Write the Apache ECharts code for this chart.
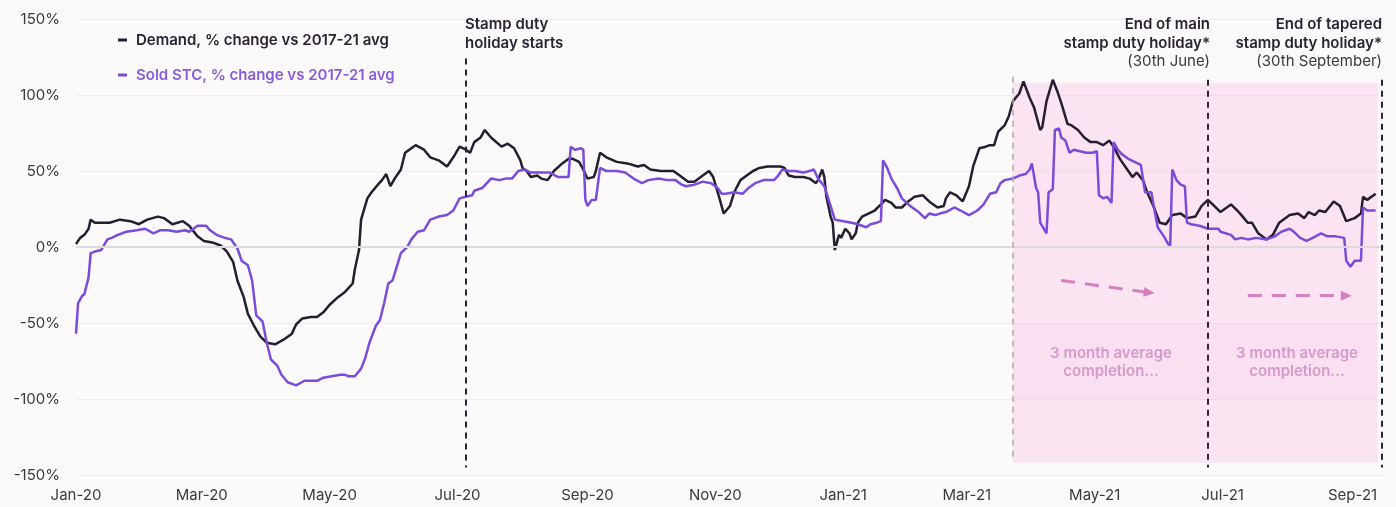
<!DOCTYPE html>
<html>
<head>
<meta charset="utf-8">
<title>Demand and sold STC vs 2017-21 average</title>
<script src="https://cdn.jsdelivr.net/npm/echarts@6/dist/echarts.min.js"></script>
<style>
  html, body { margin: 0; padding: 0; background: #fbf9f9; }
  #chart { width: 1396px; height: 507px; }
</style>
</head>
<body>
<div id="chart"></div>
<script>
// x axis ticks
var tickDates = ['2020-01-01', '2020-03-01', '2020-05-01', '2020-07-01', '2020-09-01', '2020-11-01',
                 '2021-01-01', '2021-03-01', '2021-05-01', '2021-07-01', '2021-09-01'];
var tickLabels = ['Jan-20', 'Mar-20', 'May-20', 'Jul-20', 'Sep-20', 'Nov-20',
                  'Jan-21', 'Mar-21', 'May-21', 'Jul-21', 'Sep-21'];

// Demand, % change vs 2017-21 avg
var demandDates = [
  '2020-01-01','2020-01-03','2020-01-05','2020-01-07','2020-01-08','2020-01-10','2020-01-14','2020-01-17',
  '2020-01-22','2020-01-27','2020-01-31','2020-02-04','2020-02-09','2020-02-12','2020-02-16','2020-02-21',
  '2020-02-24','2020-02-28','2020-03-02','2020-03-06','2020-03-10','2020-03-13','2020-03-16','2020-03-18',
  '2020-03-21','2020-03-23','2020-03-26','2020-03-29','2020-04-01','2020-04-05','2020-04-09','2020-04-13',
  '2020-04-15','2020-04-18','2020-04-22','2020-04-25','2020-04-28','2020-05-01','2020-05-05','2020-05-08',
  '2020-05-12','2020-05-13','2020-05-15','2020-05-16','2020-05-19','2020-05-21','2020-05-24','2020-05-26',
  '2020-05-28','2020-05-30','2020-06-01','2020-06-04','2020-06-06','2020-06-09','2020-06-11','2020-06-15',
  '2020-06-18','2020-06-22','2020-06-26','2020-06-29','2020-07-02','2020-07-05','2020-07-07','2020-07-09',
  '2020-07-12','2020-07-14','2020-07-17','2020-07-22','2020-07-25','2020-07-28','2020-07-31','2020-08-01',
  '2020-08-03','2020-08-05','2020-08-08','2020-08-10','2020-08-13','2020-08-16','2020-08-20','2020-08-23',
  '2020-08-25','2020-08-28','2020-08-30','2020-09-01','2020-09-04','2020-09-05','2020-09-07','2020-09-10',
  '2020-09-15','2020-09-20','2020-09-25','2020-09-28','2020-10-01','2020-10-06','2020-10-12','2020-10-15',
  '2020-10-19','2020-10-22','2020-10-26','2020-10-29','2020-10-31','2020-11-03','2020-11-05','2020-11-08',
  '2020-11-10','2020-11-13','2020-11-16','2020-11-19','2020-11-22','2020-11-26','2020-11-29','2020-12-02',
  '2020-12-04','2020-12-06','2020-12-09','2020-12-13','2020-12-16','2020-12-19','2020-12-20','2020-12-22',
  '2020-12-23','2020-12-24','2020-12-26','2020-12-27','2020-12-28','2020-12-30','2020-12-31','2021-01-02',
  '2021-01-04','2021-01-05','2021-01-07','2021-01-08','2021-01-10','2021-01-13','2021-01-16','2021-01-19',
  '2021-01-21','2021-01-24','2021-01-26','2021-01-29','2021-02-01','2021-02-04','2021-02-08','2021-02-11',
  '2021-02-15','2021-02-18','2021-02-19','2021-02-21','2021-02-24','2021-02-27','2021-03-02','2021-03-04',
  '2021-03-07','2021-03-10','2021-03-12','2021-03-14','2021-03-16','2021-03-19','2021-03-21','2021-03-23',
  '2021-03-26','2021-03-28','2021-03-31','2021-04-02','2021-04-05','2021-04-06','2021-04-08','2021-04-11',
  '2021-04-13','2021-04-15','2021-04-18','2021-04-20','2021-04-23','2021-04-26','2021-04-29','2021-05-02',
  '2021-05-05','2021-05-08','2021-05-10','2021-05-13','2021-05-16','2021-05-19','2021-05-21','2021-05-24',
  '2021-05-26','2021-05-29','2021-06-01','2021-06-04','2021-06-07','2021-06-11','2021-06-14','2021-06-18',
  '2021-06-21','2021-06-24','2021-06-27','2021-06-30','2021-07-05','2021-07-08','2021-07-10','2021-07-13',
  '2021-07-15','2021-07-18','2021-07-22','2021-07-25','2021-07-28','2021-08-02','2021-08-06','2021-08-09',
  '2021-08-11','2021-08-14','2021-08-16','2021-08-19','2021-08-23','2021-08-26','2021-08-29','2021-09-02',
  '2021-09-05','2021-09-06','2021-09-08','2021-09-12'
];
var demandValues = [
  2, 6, 8, 12, 18, 16, 16, 16,
  18, 17, 15, 18, 20, 19, 15, 17,
  14, 7, 4, 3, 1, -3, -10, -22,
  -33, -44, -52, -59, -63, -64, -61, -57,
  -51, -47, -46, -46, -43, -38, -33, -30,
  -24, -15, -2, 18, 32, 36, 41, 44,
  48, 40, 45, 51, 62, 65, 67, 64,
  59, 57, 53, 59, 66, 64, 62, 69,
  72, 77, 72, 66, 68, 65, 57, 52,
  50, 46, 47, 45, 44, 50, 55, 58,
  58, 56, 51, 45, 46, 50, 62, 59,
  56, 55, 53, 54, 51, 50, 50, 47,
  43, 43, 47, 50, 46, 32, 22, 27,
  36, 44, 47, 50, 52, 53, 53, 53,
  52, 47, 46, 46, 45, 42, 44, 51,
  46, 33, 20, 16, -2, 8, 6, 12,
  9, 5, 9, 16, 20, 22, 24, 28,
  31, 29, 26, 26, 30, 33, 34, 30,
  26, 27, 32, 36, 34, 30, 40, 53,
  65, 66, 67, 67, 76, 80, 86, 96,
  101, 109, 98, 92, 77, 79, 96, 110,
  103, 95, 81, 80, 77, 72, 69, 69,
  67, 70, 66, 58, 52, 46, 49, 44,
  36, 27, 16, 15, 21, 22, 19, 20,
  27, 31, 27, 23, 28, 24, 21, 16,
  16, 9, 5, 8, 16, 21, 22, 19,
  23, 21, 24, 23, 30, 27, 17, 19,
  22, 33, 31, 35
];

// Sold STC, % change vs 2017-21 avg
var stcDates = [
  '2020-01-01','2020-01-02','2020-01-04','2020-01-05','2020-01-07','2020-01-08','2020-01-10','2020-01-13',
  '2020-01-16','2020-01-18','2020-01-21','2020-01-25','2020-01-30','2020-02-03','2020-02-07','2020-02-10',
  '2020-02-14','2020-02-18','2020-02-22','2020-02-24','2020-02-28','2020-03-03','2020-03-05','2020-03-08',
  '2020-03-12','2020-03-15','2020-03-18','2020-03-20','2020-03-23','2020-03-25','2020-03-27','2020-03-30',
  '2020-04-01','2020-04-03','2020-04-06','2020-04-08','2020-04-11','2020-04-15','2020-04-19','2020-04-22',
  '2020-04-25','2020-04-28','2020-05-02','2020-05-06','2020-05-08','2020-05-10','2020-05-13','2020-05-16',
  '2020-05-18','2020-05-20','2020-05-23','2020-05-25','2020-05-27','2020-05-29','2020-05-31','2020-06-02',
  '2020-06-04','2020-06-07','2020-06-09','2020-06-12','2020-06-15','2020-06-18','2020-06-22','2020-06-26',
  '2020-06-29','2020-07-02','2020-07-05','2020-07-08','2020-07-09','2020-07-13','2020-07-17','2020-07-21',
  '2020-07-24','2020-07-27','2020-07-30','2020-08-02','2020-08-05','2020-08-09','2020-08-14','2020-08-18',
  '2020-08-23','2020-08-24','2020-08-26','2020-08-29','2020-08-30','2020-08-31','2020-09-01','2020-09-03',
  '2020-09-05','2020-09-07','2020-09-10','2020-09-15','2020-09-19','2020-09-23','2020-09-27','2020-09-30',
  '2020-10-05','2020-10-09','2020-10-13','2020-10-16','2020-10-18','2020-10-22','2020-10-26','2020-10-30',
  '2020-11-02','2020-11-04','2020-11-06','2020-11-10','2020-11-14','2020-11-17','2020-11-20','2020-11-24',
  '2020-11-29','2020-12-01','2020-12-03','2020-12-06','2020-12-09','2020-12-13','2020-12-16','2020-12-18',
  '2020-12-20','2020-12-23','2020-12-26','2020-12-28','2021-01-01','2021-01-05','2021-01-08','2021-01-12',
  '2021-01-14','2021-01-17','2021-01-19','2021-01-20','2021-01-22','2021-01-24','2021-01-27','2021-01-29',
  '2021-02-02','2021-02-06','2021-02-09','2021-02-11','2021-02-14','2021-02-16','2021-02-19','2021-02-23',
  '2021-02-26','2021-03-02','2021-03-06','2021-03-09','2021-03-12','2021-03-15','2021-03-17','2021-03-19',
  '2021-03-23','2021-03-26','2021-03-29','2021-03-31','2021-04-01','2021-04-03','2021-04-04','2021-04-05',
  '2021-04-08','2021-04-09','2021-04-11','2021-04-12','2021-04-14','2021-04-15','2021-04-17','2021-04-19',
  '2021-04-21','2021-04-24','2021-04-27','2021-04-30','2021-05-02','2021-05-03','2021-05-05','2021-05-07',
  '2021-05-09','2021-05-10','2021-05-12','2021-05-14','2021-05-17','2021-05-20','2021-05-23','2021-05-25',
  '2021-05-28','2021-05-31','2021-06-03','2021-06-05','2021-06-06','2021-06-07','2021-06-09','2021-06-11',
  '2021-06-13','2021-06-14','2021-06-16','2021-06-20','2021-06-24','2021-06-29','2021-06-30','2021-07-05',
  '2021-07-07','2021-07-10','2021-07-13','2021-07-17','2021-07-22','2021-07-26','2021-07-29','2021-08-02',
  '2021-08-04','2021-08-07','2021-08-10','2021-08-13','2021-08-17','2021-08-20','2021-08-24','2021-08-28',
  '2021-08-29','2021-08-31','2021-09-02','2021-09-05','2021-09-06','2021-09-08','2021-09-12'
];
var stcValues = [
  -57, -37, -32, -31, -20, -4, -3, -2,
  5, 6, 8, 10, 11, 12, 9, 11,
  11, 10, 11, 10, 14, 14, 11, 8,
  6, 5, -1, -9, -12, -22, -45, -49,
  -63, -74, -78, -84, -89, -91, -88, -88,
  -88, -86, -85, -84, -84, -85, -85, -80,
  -73, -63, -52, -48, -37, -24, -22, -13,
  -4, 0, 5, 10, 11, 18, 20, 21,
  24, 32, 33, 34, 37, 39, 45, 44,
  45, 45, 50, 51, 49, 49, 49, 46,
  46, 66, 64, 65, 64, 31, 27, 31,
  31, 52, 50, 50, 49, 45, 42, 44,
  45, 44, 44, 41, 40, 41, 43, 42,
  39, 35, 35, 36, 35, 39, 42, 44,
  44, 47, 51, 50, 50, 49, 50, 51,
  45, 40, 27, 18, 17, 16, 15, 13,
  15, 16, 17, 57, 52, 45, 38, 32,
  27, 23, 19, 22, 21, 22, 23, 26,
  24, 21, 24, 28, 35, 36, 42, 44,
  45, 47, 48, 51, 55, 39, 36, 16,
  9, 36, 38, 77, 78, 72, 70, 62,
  64, 63, 62, 62, 63, 34, 32, 33,
  29, 69, 64, 61, 58, 56, 54, 36,
  36, 13, 7, 2, 1, 51, 44, 41,
  40, 16, 15, 14, 12, 12, 10, 8,
  5, 6, 5, 6, 5, 7, 10, 12,
  10, 6, 4, 6, 9, 7, 7, 6,
  -9, -13, -9, -9, 26, 24, 24
];

var DEMAND = 'Demand, % change vs 2017-21 avg';
var STC = 'Sold STC, % change vs 2017-21 avg';
var demandColor = '#241e30';
var stcColor = '#7b4bdc';
var FONT = 'Inter, "Noto Sans", sans-serif';
var HEAVY = '600 15px ' + FONT;
var PLAIN = '400 15px ' + FONT;

function pairs(dates, values) {
  return dates.map(function (d, i) { return [d, values[i]]; });
}

// one graphic text element per line, anchored at x with the given alignment
function textLine(str, x, y, align, font, color) {
  return {
    type: 'text', x: x, y: y, z: 10, silent: true,
    style: { text: str, fill: color, font: font, align: align, verticalAlign: 'middle' }
  };
}

var tickTimes = tickDates.map(function (d) { return echarts.time.parse(d).getTime(); });

var chart = echarts.init(document.getElementById('chart'), null, { renderer: 'canvas' });

var option = {
  backgroundColor: '#fbf9f9',
  animation: false,
  textStyle: { fontFamily: FONT },
  grid: { left: 76, right: 12, top: 19, bottom: 32 },
  legend: {
    orient: 'vertical',
    left: 113,
    top: 26,
    itemGap: 17,
    icon: 'rect',
    itemWidth: 9,
    itemHeight: 3,
    textStyle: { fontSize: 15, fontWeight: 600, lineHeight: 18, fontFamily: FONT, padding: [0, 0, 0, 4] },
    data: [
      { name: DEMAND, textStyle: { color: '#2a2433' } },
      { name: STC, textStyle: { color: '#8a5cdc' } }
    ]
  },
  xAxis: {
    type: 'time',
    min: '2020-01-01',
    max: '2021-09-16',
    splitNumber: 10,
    axisLine: { show: false },
    axisTick: { show: false },
    splitLine: { show: false },
    axisLabel: {
      margin: 13,
      fontSize: 15,
      color: '#3a3a3a',
      fontFamily: FONT,
      hideOverlap: false,
      formatter: function (v) {
        var i = tickTimes.indexOf(+v);
        return i >= 0 ? tickLabels[i] : '';
      }
    }
  },
  yAxis: {
    type: 'value',
    min: -150,
    max: 150,
    interval: 50,
    axisLine: { show: false },
    axisTick: { show: false },
    axisLabel: {
      margin: 16,
      fontSize: 15,
      color: '#3a3a3a',
      fontFamily: FONT,
      formatter: '{value}%'
    },
    splitLine: { lineStyle: { color: '#efeded', width: 1 } }
  },
  series: [
    {
      // zero line under the data
      name: 'zero',
      type: 'line',
      data: [],
      z: 1,
      silent: true,
      markLine: {
        silent: true,
        symbol: ['none', 'none'],
        label: { show: false },
        lineStyle: { color: '#dcdada', width: 2, type: 'solid' },
        data: [{ yAxis: 0 }]
      }
    },
    {
      name: DEMAND,
      type: 'line',
      data: pairs(demandDates, demandValues),
      showSymbol: false,
      z: 2,
      lineStyle: { color: demandColor, width: 2.5 },
      itemStyle: { color: demandColor }
    },
    {
      name: STC,
      type: 'line',
      data: pairs(stcDates, stcValues),
      showSymbol: false,
      z: 2,
      lineStyle: { color: stcColor, width: 2.5 },
      itemStyle: { color: stcColor }
    },
    {
      // pink post-holiday window, drawn over the lines
      name: 'window',
      type: 'line',
      data: [],
      z: 4,
      silent: true,
      markArea: {
        silent: true,
        label: { show: false },
        data: [
          [
            { xAxis: '2021-03-23', yAxis: 108, itemStyle: { color: 'rgba(248,168,224,0.25)' } },
            { xAxis: '2021-09-13', yAxis: -142 }
          ],
          [
            { xAxis: '2021-03-23', yAxis: -50, itemStyle: { color: 'rgba(240,160,220,0.06)' } },
            { xAxis: '2021-09-13', yAxis: -100 }
          ]
        ]
      }
    },
    {
      // reference lines and arrows
      name: 'refs',
      type: 'line',
      data: [],
      z: 6,
      silent: true,
      markLine: {
        silent: true,
        symbol: ['none', 'none'],
        label: { show: false },
        data: [
          [
            { coord: ['2020-07-05', 124], lineStyle: { color: '#2a2433', width: 2, type: [6, 5] } },
            { coord: ['2020-07-05', -145] }
          ],
          [
            { coord: ['2021-03-23', 112], lineStyle: { color: '#aaaaaa', width: 1.5, type: [6, 5] } },
            { coord: ['2021-03-23', -141] }
          ],
          [
            { coord: ['2021-06-24', 110], lineStyle: { color: '#2a2433', width: 2, type: [6, 5] } },
            { coord: ['2021-06-24', -145] }
          ],
          [
            { coord: ['2021-09-15', 110], lineStyle: { color: '#2a2433', width: 2, type: [6, 5] } },
            { coord: ['2021-09-15', -145] }
          ],
          [
            { coord: ['2021-04-15', -22], symbol: 'none',
              lineStyle: { color: '#d580bd', width: 3, type: [14, 10] } },
            { coord: ['2021-05-27', -30], symbol: 'triangle', symbolSize: [10, 11] }
          ],
          [
            { coord: ['2021-07-13', -32], symbol: 'none',
              lineStyle: { color: '#d580bd', width: 3, type: [14, 10] } },
            { coord: ['2021-08-29', -32], symbol: 'triangle', symbolSize: [10, 11] }
          ]
        ]
      }
    }
  ],
  graphic: [
    textLine('Stamp duty', 465, 24, 'left', HEAVY, '#2a2433'),
    textLine('holiday starts', 465, 43, 'left', HEAVY, '#2a2433'),
    textLine('End of main', 1210, 24, 'right', HEAVY, '#2a2433'),
    textLine('stamp duty holiday*', 1210, 43, 'right', HEAVY, '#2a2433'),
    textLine('(30th June)', 1210, 61, 'right', PLAIN, '#3a3a3a'),
    textLine('End of tapered', 1382, 24, 'right', HEAVY, '#2a2433'),
    textLine('stamp duty holiday*', 1382, 43, 'right', HEAVY, '#2a2433'),
    textLine('(30th September)', 1382, 61, 'right', PLAIN, '#3a3a3a'),
    textLine('3 month average', 1111, 353, 'center', HEAVY, '#d59acb'),
    textLine('completion...', 1111, 371, 'center', HEAVY, '#d59acb'),
    textLine('3 month average', 1297, 353, 'center', HEAVY, '#d59acb'),
    textLine('completion...', 1297, 371, 'center', HEAVY, '#d59acb')
  ]
};

chart.setOption(option);
</script>
</body>
</html>
